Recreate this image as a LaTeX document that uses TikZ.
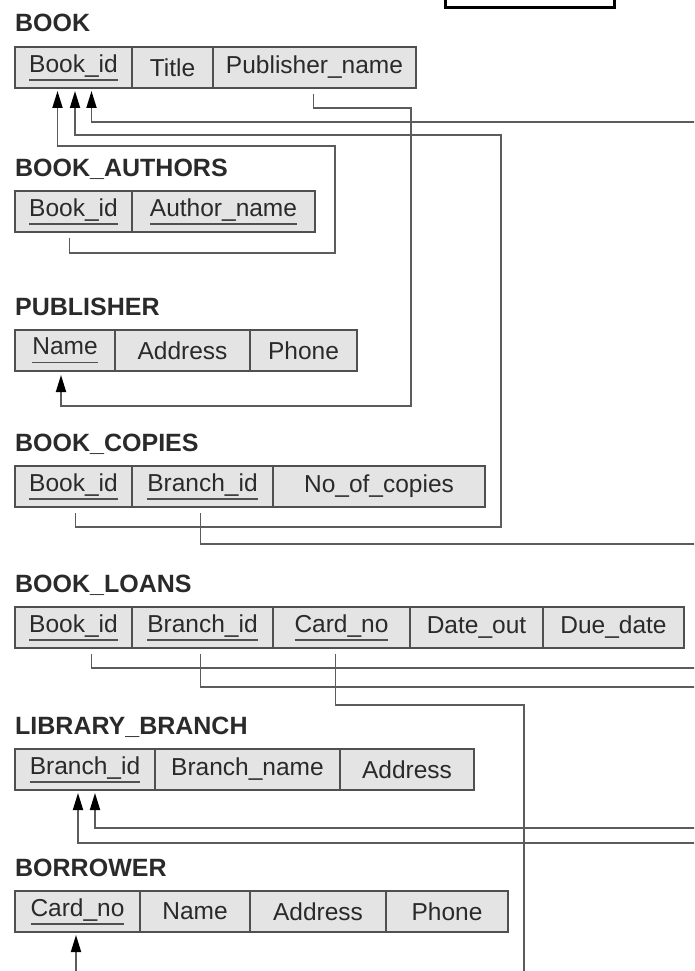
\documentclass[tikz,border=0pt]{standalone}
\usepackage{fontspec}
\setmainfont{Liberation Sans}
\usepackage{xcolor}
\usetikzlibrary{arrows.meta,positioning}
\definecolor{cellfill}{RGB}{228,228,228}
\definecolor{cellrule}{RGB}{80,80,80}
\definecolor{inktext}{RGB}{42,42,42}
\definecolor{linkgray}{RGB}{92,92,92}
\newcommand{\pk}[1]{\sbox0{#1}\rlap{\color{cellrule}\rule[-8.5pt]{\wd0}{1.6pt}}\usebox0}

\begin{document}
\begin{tikzpicture}[x=1pt,y=-1pt,
    relname/.style={anchor=base west,inner sep=0pt,font=\fontsize{25}{30}\selectfont\bfseries,text=inktext},
    attr/.style={rectangle,draw=cellrule,fill=cellfill,line width=1.6pt,minimum height=41pt,
      inner sep=0pt,outer sep=0pt,font=\fontsize{24.5}{29}\selectfont,text=inktext},
    fkarrow/.style={-{Triangle[length=17pt,width=10pt,color=black]},line width=1.8pt,draw=linkgray},
    pagebox/.style={draw=black,line width=2.5pt,minimum width=169pt,minimum height=30pt,anchor=south west}
  ]
    \useasboundingbox (0,0) rectangle (694,971);
    \clip (0,0) rectangle (694,971);

    \node[pagebox] (pgbox) at (444,9) {};

    \node[relname] (t-book) at (15,32) {BOOK};
    \node[attr,anchor=north west,minimum width=117pt] (bk-id) at (15,47) {\pk{Book\_id}};
    \node[attr,minimum width=81pt,right=0pt of bk-id] (bk-title) {Title};
    \node[attr,minimum width=203pt,right=0pt of bk-title] (bk-pub) {Publisher\_name};

    \node[relname] (t-authors) at (15,176) {BOOK\_AUTHORS};
    \node[attr,anchor=north west,minimum width=117pt] (ba-id) at (15,191) {\pk{Book\_id}};
    \node[attr,minimum width=183pt,right=0pt of ba-id] (ba-author) {\pk{Author\_name}};

    \node[relname] (t-publisher) at (15,315) {PUBLISHER};
    \node[attr,anchor=north west,minimum width=100pt] (pb-name) at (15,330) {\pk{Name}};
    \node[attr,minimum width=135pt,right=0pt of pb-name] (pb-addr) {Address};
    \node[attr,minimum width=107pt,right=0pt of pb-addr] (pb-phone) {Phone};

    \node[relname] (t-copies) at (15,451) {BOOK\_COPIES};
    \node[attr,anchor=north west,minimum width=117pt] (bc-book) at (15,466) {\pk{Book\_id}};
    \node[attr,minimum width=141pt,right=0pt of bc-book] (bc-branch) {\pk{Branch\_id}};
    \node[attr,minimum width=212pt,right=0pt of bc-branch] (bc-copies) {No\_of\_copies};

    \node[relname] (t-loans) at (15,592) {BOOK\_LOANS};
    \node[attr,anchor=north west,minimum width=117pt] (bl-book) at (15,607) {\pk{Book\_id}};
    \node[attr,minimum width=141pt,right=0pt of bl-book] (bl-branch) {\pk{Branch\_id}};
    \node[attr,minimum width=137pt,right=0pt of bl-branch] (bl-card) {\pk{Card\_no}};
    \node[attr,minimum width=133pt,right=0pt of bl-card] (bl-out) {Date\_out};
    \node[attr,minimum width=141pt,right=0pt of bl-out] (bl-due) {Due\_date};

    \node[relname] (t-branch) at (15,734) {LIBRARY\_BRANCH};
    \node[attr,anchor=north west,minimum width=140pt] (lb-id) at (15,749) {\pk{Branch\_id}};
    \node[attr,minimum width=185pt,right=0pt of lb-id] (lb-name) {Branch\_name};
    \node[attr,minimum width=134pt,right=0pt of lb-name] (lb-addr) {Address};

    \node[relname] (t-borrower) at (15,876) {BORROWER};
    \node[attr,anchor=north west,minimum width=125pt] (br-card) at (15,891) {\pk{Card\_no}};
    \node[attr,minimum width=110pt,right=0pt of br-card] (br-name) {Name};
    \node[attr,minimum width=136pt,right=0pt of br-name] (br-addr) {Address};
    \node[attr,minimum width=122pt,right=0pt of br-addr] (br-phone) {Phone};

    \draw[fkarrow] ([xshift=-4pt,yshift=-6pt]ba-id.south) |- (335,253) -- (335,146) -| ([xshift=-16pt,yshift=-3pt]bk-id.south);
    \draw[fkarrow] ([xshift=2pt,yshift=-6pt]bc-book.south) |- (501,527) -- (501,135) -| ([xshift=1.5pt,yshift=-3pt]bk-id.south);
    \draw[fkarrow] ([xshift=18pt,yshift=-6pt]bl-book.south) |- (710,668) -- (710,122) -| ([xshift=18pt,yshift=-3pt]bk-id.south);
    \draw[fkarrow] ([xshift=-1pt,yshift=-6pt]bk-pub.south) |- (411,108) -- (411,406) -| ([xshift=-4pt,yshift=-4pt]pb-name.south);
    \draw[fkarrow] ([xshift=-2pt,yshift=-6pt]bc-branch.south) |- (725,544) -- (725,843) -| ([xshift=-7pt,yshift=-3pt]lb-id.south);
    \draw[fkarrow] ([xshift=-2pt,yshift=-6pt]bl-branch.south) |- (715,687) -- (715,828) -| ([xshift=10pt,yshift=-3pt]lb-id.south);
    \draw[fkarrow] ([xshift=-6pt,yshift=-6pt]bl-card.south) |- (524,705) -- (524,990) -| ([xshift=-1.5pt,yshift=-3pt]br-card.south);
  \end{tikzpicture}
\end{document}
